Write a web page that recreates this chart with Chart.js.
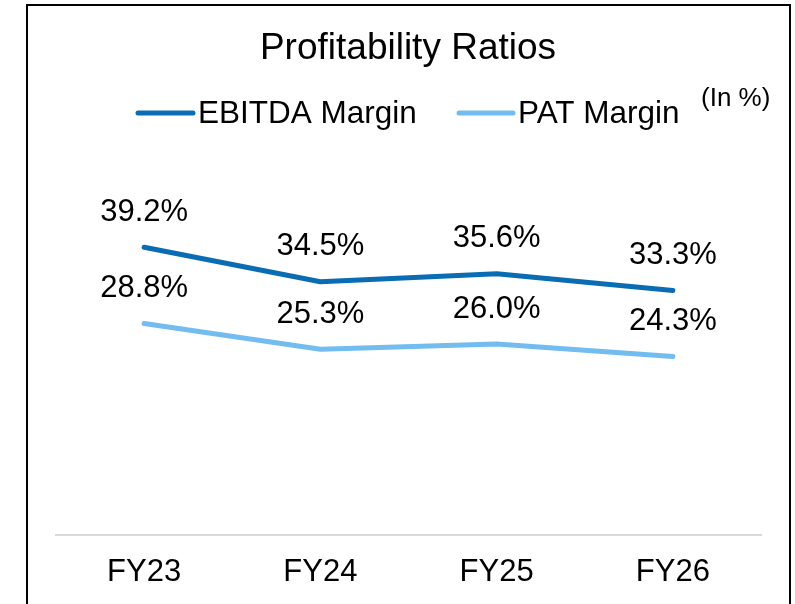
<!DOCTYPE html>
<html>
<head>
<meta charset="utf-8">
<script src="https://cdn.jsdelivr.net/npm/chart.js@4.4.0/dist/chart.umd.min.js"></script>
<style>
  html, body { margin: 0; padding: 0; background: #fff; width: 795px; height: 604px; overflow: hidden; }
  #frame { position: absolute; left: 26px; top: 4px; width: 765px; height: 700px; border: 2px solid #000; box-sizing: border-box; }
  #wrap { position: absolute; left: 0; top: 0; width: 795px; height: 625px; }
</style>
</head>
<body>
<div id="frame"></div>
<div id="wrap"><canvas id="c" width="795" height="625"></canvas></div>
<script>
const categories = ["FY23", "FY24", "FY25", "FY26"];
const ebitdaMargin = [39.2, 34.5, 35.6, 33.3];
const patMargin = [28.8, 25.3, 26.0, 24.3];
const seriesNames = ["EBITDA Margin", "PAT Margin"];
const chartTitle = "Profitability Ratios";
const unitNote = "(In %)";

const FONT = "'Liberation Sans', Arial, sans-serif";
const colEbitda = "#0A6DB3";
const colPat = "#72BCF0";

const overlay = {
  id: 'overlay',
  afterDatasetsDraw(chart) {
    const ctx = chart.ctx;
    ctx.save();
    ctx.fillStyle = '#000';
    ctx.textAlign = 'center';
    ctx.textBaseline = 'middle';
    // title
    ctx.font = "37px " + FONT;
    ctx.fillText(chartTitle, 408, 49);
    // legend
    const items = [
      { x0: 138, x1: 193, tx: 198, label: seriesNames[0], color: chart.data.datasets[0].borderColor },
      { x0: 459, x1: 513, tx: 518, label: seriesNames[1], color: chart.data.datasets[1].borderColor }
    ];
    ctx.font = "31.5px " + FONT;
    items.forEach(it => {
      ctx.strokeStyle = it.color;
      ctx.lineWidth = 5;
      ctx.lineCap = 'round';
      ctx.beginPath();
      ctx.moveTo(it.x0, 113);
      ctx.lineTo(it.x1, 113);
      ctx.stroke();
      ctx.textAlign = 'left';
      ctx.fillText(it.label, it.tx, 114);
    });
    ctx.font = "26px " + FONT;
    ctx.textAlign = 'left';
    ctx.fillText(unitNote, 701, 99);
    // data labels
    ctx.font = "31px " + FONT;
    ctx.textAlign = 'center';
    chart.data.datasets.forEach((ds, di) => {
      const meta = chart.getDatasetMeta(di);
      meta.data.forEach((pt, i) => {
        ctx.fillText(ds.data[i].toFixed(1) + "%", pt.x, pt.y - 35);
      });
    });
    ctx.restore();
  }
};

new Chart(document.getElementById('c'), {
  type: 'line',
  data: {
    labels: categories,
    datasets: [
      { label: seriesNames[0], data: ebitdaMargin, borderColor: colEbitda, backgroundColor: colEbitda, borderWidth: 5, pointRadius: 0, tension: 0, borderCapStyle: 'round', borderJoinStyle: 'round' },
      { label: seriesNames[1], data: patMargin, borderColor: colPat, backgroundColor: colPat, borderWidth: 5, pointRadius: 0, tension: 0, borderCapStyle: 'round', borderJoinStyle: 'round' }
    ]
  },
  options: {
    responsive: false,
    animation: false,
    devicePixelRatio: 1,
    layout: { padding: { left: 56, right: 34, top: 168, bottom: 15 } },
    plugins: { legend: { display: false }, title: { display: false }, tooltip: { enabled: false } },
    scales: {
      x: {
        offset: true,
        grid: { display: true, drawOnChartArea: false, drawTicks: false, color: 'rgba(0,0,0,0)' },
        border: { display: true, color: '#D9D9D9', width: 2 },
        ticks: { color: '#000', font: { family: FONT, size: 31 }, padding: 19 }
      },
      y: {
        display: false,
        min: 0,
        max: 50
      }
    }
  },
  plugins: [overlay]
});
</script>
</body>
</html>
